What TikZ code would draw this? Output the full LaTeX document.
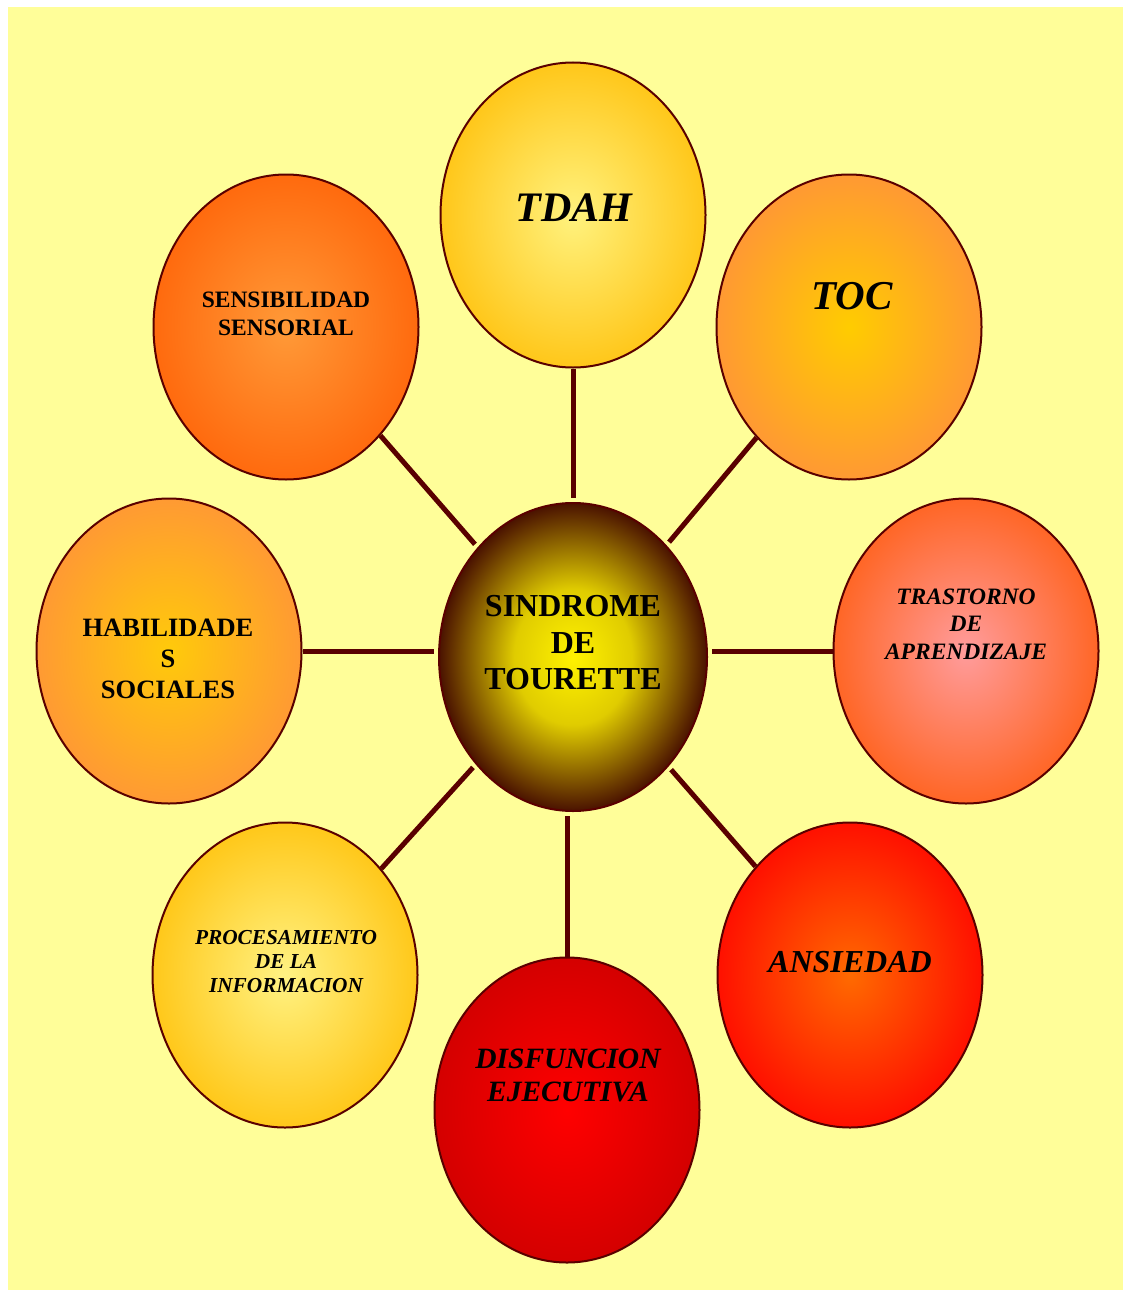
\documentclass[tikz,border=0pt]{standalone}
\usepackage{fontspec}
\setmainfont{Liberation Serif}
\usetikzlibrary{shapes.geometric}

\definecolor{paper}{HTML}{FFFE99}
\definecolor{rim}{HTML}{5A0000}
\definecolor{tdahin}{HTML}{FFF27E}
\definecolor{tdahout}{HTML}{FFC71A}
\definecolor{tocin}{HTML}{FFCC00}
\definecolor{tocout}{HTML}{FF9933}
\definecolor{sensin}{HTML}{FF9A38}
\definecolor{sensout}{HTML}{FF6A0E}
\definecolor{habin}{HTML}{FFCA0A}
\definecolor{habout}{HTML}{FF9A33}
\definecolor{sindin}{HTML}{FFF200}
\definecolor{sindmid}{HTML}{E0CC00}
\definecolor{sindout}{HTML}{4A1200}
\definecolor{trastin}{HTML}{FF9C9C}
\definecolor{trastout}{HTML}{FF6626}
\definecolor{procin}{HTML}{FFF283}
\definecolor{procout}{HTML}{FFC81A}
\definecolor{ansin}{HTML}{FF6A00}
\definecolor{ansout}{HTML}{FF1000}
\definecolor{disfin}{HTML}{FF0000}
\definecolor{disfout}{HTML}{D40000}

% yellow core fading into dark brown
\pgfdeclareradialshading{tourette}{\pgfpoint{0bp}{0bp}}{color(0bp)=(sindin); color(11bp)=(sindmid); color(25bp)=(sindout); color(50bp)=(sindout)}

\begin{document}
\begin{tikzpicture}[x=1pt, y=-1pt,
    bubble/.style={ellipse, draw=rim, line width=2pt, minimum width=265pt, minimum height=305pt, inner sep=0pt},
    caption/.style={align=center, inner sep=0pt, text=black},
    link/.style={draw=rim, line width=5pt, shorten >=4pt}]
      \useasboundingbox (0,0) rectangle (1123,1290);
      \fill[paper] (8,7) rectangle (1130,1296);
      % bubbles
      \node[bubble, inner color=tdahin, outer color=tdahout] (tdah) at (573,215) {};
      \node[bubble, inner color=tocin, outer color=tocout] (toc) at (849,327) {};
      \node[bubble, inner color=sensin, outer color=sensout] (sensibilidad) at (286,327) {};
      \node[bubble, inner color=habin, outer color=habout] (habilidades) at (169,651) {};
      \node[bubble, inner color=trastin, outer color=trastout] (trastorno) at (966,651) {};
      \node[bubble, inner color=procin, outer color=procout] (procesamiento) at (285,975) {};
      \node[bubble, inner color=ansin, outer color=ansout] (ansiedad) at (850,975) {};
      \node[bubble, inner color=disfin, outer color=disfout] (disfuncion) at (567,1110) {};
      \node[bubble, minimum width=268pt, minimum height=308pt, shading=tourette] (sindrome) at (573,657) {};
      % texts
      \node[caption, font=\bfseries\itshape\fontsize{42}{44}\selectfont] (tdah-t) at (574,208) {TDAH};
      \node[caption, font=\bfseries\itshape\fontsize{41}{44}\selectfont] (toc-t) at (852,296) {TOC};
      \node[caption, font=\bfseries\fontsize{23.5}{28}\selectfont] (sensibilidad-t) at (286,314) {SENSIBILIDAD\\SENSORIAL};
      \node[caption, font=\bfseries\fontsize{26.5}{31}\selectfont] (habilidades-t) at (168,659) {HABILIDADE\\S\\SOCIALES};
      \node[caption, font=\bfseries\fontsize{32}{36.5}\selectfont] (sindrome-t) at (573,643) {SINDROME\\DE\\TOURETTE};
      \node[caption, font=\bfseries\itshape\fontsize{23.5}{27.5}\selectfont] (trastorno-t) at (966,624) {TRASTORNO\\DE\\APRENDIZAJE};
      \node[caption, font=\bfseries\itshape\fontsize{21.3}{24}\selectfont] (procesamiento-t) at (286,962) {PROCESAMIENTO\\DE LA\\INFORMACION};
      \node[caption, font=\bfseries\itshape\fontsize{32}{36}\selectfont] (ansiedad-t) at (850,962) {ANSIEDAD};
      \node[caption, font=\bfseries\itshape\fontsize{29.5}{33}\selectfont] (disfuncion-t) at (568,1075) {DISFUNCION\\EJECUTIVA};
      % links to the centre
      \draw[link] (tdah) -- (tdah |- sindrome.north);
      \draw[link] (toc) -- (sindrome);
      \draw[link] (trastorno) -- (trastorno -| sindrome.east);
      \draw[link] (ansiedad) -- (sindrome);
      \draw[link] (disfuncion) -- (disfuncion |- sindrome.south);
      \draw[link] (procesamiento) -- (sindrome);
      \draw[link] (habilidades) -- (habilidades -| sindrome.west);
      \draw[link] (sensibilidad) -- (sindrome);
    \end{tikzpicture}
\end{document}
